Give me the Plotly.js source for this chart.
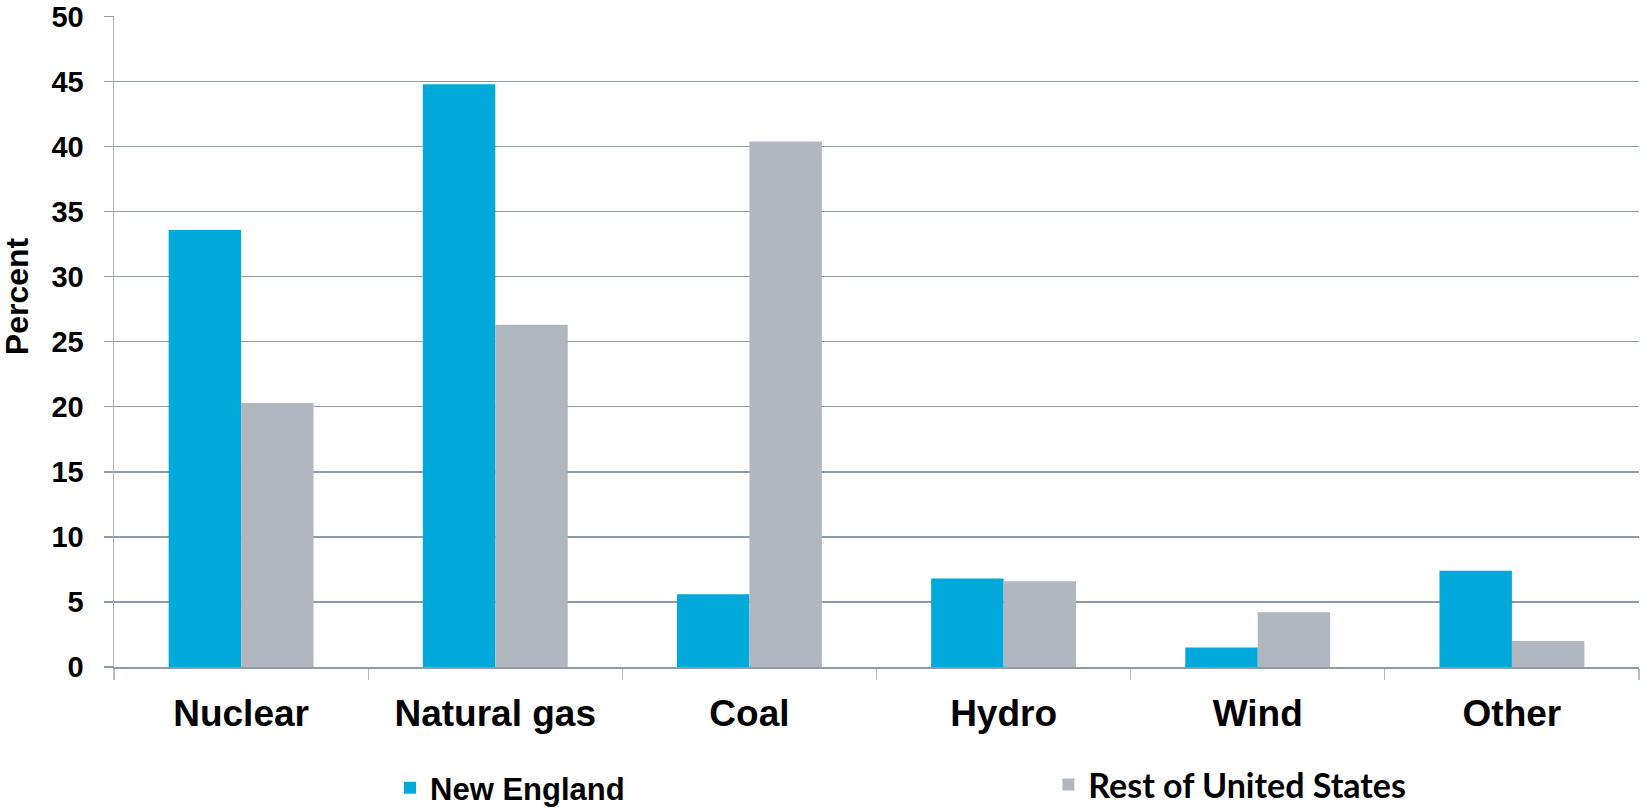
<!DOCTYPE html>
<html>
<head>
<meta charset="utf-8">
<script src="https://cdn.plot.ly/plotly-3.0.1.min.js"></script>
<style>
  html, body { margin: 0; padding: 0; background: #ffffff; }
  #chart { width: 1640px; height: 809px; }
</style>
</head>
<body>
<div id="chart"></div>
<script>
// Electricity generation by fuel source, share of total (percent)
const categories = ['Nuclear', 'Natural gas', 'Coal', 'Hydro', 'Wind', 'Other'];
const newEngland = [33.6, 44.8, 5.6, 6.8, 1.5, 7.4];
const restOfUS = [20.3, 26.3, 40.4, 6.6, 4.2, 2.0];
const yTicks = [0, 5, 10, 15, 20, 25, 30, 35, 40, 45, 50];

const BLUE = '#00a9d9';
const GREY = '#b0b7be';
const GRID = '#8f9aa7';
const AXIS = '#a9b0b8';
const ARIAL = 'Liberation Sans, Arial, sans-serif';

const traces = [
  {
    type: 'bar',
    name: 'New England',
    x: categories,
    y: newEngland,
    marker: { color: BLUE, line: { width: 0 } },
    legend: 'legend',
    hoverinfo: 'x+y+name'
  },
  {
    type: 'bar',
    name: 'Rest of United States',
    x: categories,
    y: restOfUS,
    marker: { color: GREY, line: { width: 0 } },
    legend: 'legend2',
    hoverinfo: 'x+y+name'
  }
];

const layout = {
  width: 1640,
  height: 809,
  margin: { l: 114, r: 1, t: 16, b: 142, autoexpand: false },
  paper_bgcolor: '#ffffff',
  plot_bgcolor: '#ffffff',
  barmode: 'group',
  bargap: 0.43,
  bargroupgap: 0,
  font: { family: ARIAL, color: '#000000' },
  xaxis: {
    type: 'category',
    tickson: 'boundaries',
    ticks: 'outside',
    ticklen: 11,
    tickwidth: 1.3,
    tickcolor: '#b5bbc2',
    showgrid: false,
    showline: true,
    linecolor: GRID,
    linewidth: 1.5,
    tickfont: { family: ARIAL, size: 37, weight: 'bold', color: '#000000' },
    ticklabelstandoff: 13,
    fixedrange: true
  },
  yaxis: {
    range: [0, 50.04],
    tickvals: yTicks,
    ticktext: yTicks.map(String),
    ticks: 'outside',
    ticklen: 9,
    tickwidth: 1.3,
    tickcolor: GRID,
    showgrid: true,
    gridcolor: GRID,
    gridwidth: 1.3,
    zeroline: false,
    showline: true,
    linecolor: AXIS,
    linewidth: 1.5,
    tickfont: { family: ARIAL, size: 29, weight: 'bold', color: '#000000' },
    ticklabelstandoff: 14,
    ticklabeloverflow: 'allow',
    fixedrange: true
  },
  // y-axis title, set a little above the middle of the axis
  annotations: [
    {
      text: 'Percent',
      xref: 'paper',
      yref: 'paper',
      x: -0.0639,
      y: 0.569,
      xanchor: 'center',
      yanchor: 'middle',
      textangle: -90,
      showarrow: false,
      font: { family: ARIAL, size: 32, weight: 'bold', color: '#000000' }
    }
  ],
  showlegend: true,
  legend: {
    x: 0.181,
    y: -0.186,
    xanchor: 'left',
    yanchor: 'middle',
    orientation: 'h',
    bgcolor: 'rgba(0,0,0,0)',
    borderwidth: 0,
    font: { family: ARIAL, size: 31, weight: 'bold', color: '#000000' }
  },
  legend2: {
    x: 0.6127,
    y: -0.181,
    xanchor: 'left',
    yanchor: 'middle',
    orientation: 'h',
    bgcolor: 'rgba(0,0,0,0)',
    borderwidth: 0,
    font: { family: 'Lato, Open Sans, sans-serif', size: 34, weight: 'bold', color: '#000000' }
  }
};

Plotly.newPlot('chart', traces, layout, { displayModeBar: false, staticPlot: true });
</script>
</body>
</html>
